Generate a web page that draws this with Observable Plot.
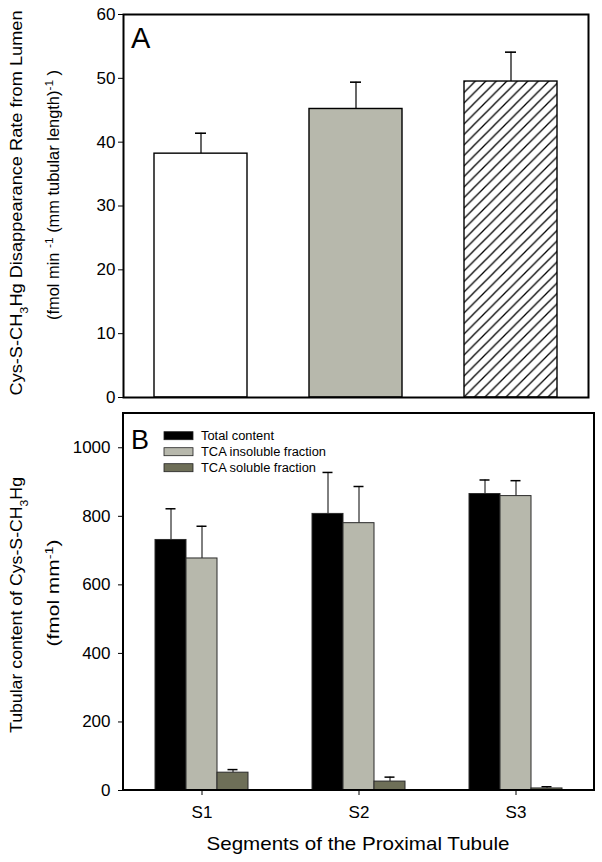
<!DOCTYPE html>
<html>
<head>
<meta charset="utf-8">
<script src="https://cdn.jsdelivr.net/npm/d3@7"></script>
<script src="https://cdn.jsdelivr.net/npm/@observablehq/plot@0.6"></script>
<style>
  html, body { margin: 0; padding: 0; background: #fff; }
  #chart { width: 602px; height: 862px; position: relative; font-family: "Liberation Sans", Arial, sans-serif; }
  #chart svg { display: block; position: absolute; left: 0; overflow: visible; }
</style>
</head>
<body>
<div id="chart"></div>
<script>
// ---------- data ----------
const segments = ["S1", "S2", "S3"];
// Panel A: disappearance rate (fmol/min/mm)
const rateA = [38.2, 45.2, 49.5];
const rateErrA = [3.2, 4.2, 4.6];
// Panel B: tubular content (fmol/mm)
const series = ["Total content", "TCA insoluble fraction", "TCA soluble fraction"];
const totalB = [731, 807, 865];
const totalErrB = [91, 121, 41];
const insolubleB = [677, 780, 859];
const insolubleErrB = [94, 107, 45];
const solubleB = [52, 26, 6];
const solubleErrB = [9, 13, 5];
const ticksA = [0, 10, 20, 30, 40, 50, 60];
const ticksB = [0, 200, 400, 600, 800, 1000];

// ---------- styles ----------
const fillsA = ["white", "#b7b8ac", "url(#hatchA)"];
const fillsB = ["#000000", "#b7b8ac", "#6e6f58"];
const font = '"Liberation Sans", Arial, sans-serif';

const dataA = segments.map((s, i) => ({segment: s, value: rateA[i], err: rateErrA[i]}));
const valsB = [totalB, insolubleB, solubleB];
const errsB = [totalErrB, insolubleErrB, solubleErrB];
const dataB = [];
segments.forEach((s, i) => series.forEach((k, j) => dataB.push({segment: s, series: k, value: valsB[j][i], err: errsB[j][i]})));

const W = 602;
const root = document.getElementById("chart");

function addText(sel, x, y, size, len, parts, opts = {}) {
  const t = sel.append("text")
    .attr("font-size", size).attr("font-family", font)
    .attr("text-anchor", opts.anchor || "start")
    .attr("fill", "black");
  if (opts.rotate) t.attr("transform", `translate(${x},${y}) rotate(-90)`);
  else t.attr("x", x).attr("y", y);
  if (len) t.attr("textLength", len).attr("lengthAdjust", "spacingAndGlyphs");
  parts.forEach(p => {
    if (typeof p === "string") t.append("tspan").text(p);
    else t.append("tspan").attr("baseline-shift", p.shift).attr("font-size", p.size).text(p.t);
  });
  return t;
}

// ---------- Panel B (drawn first, underneath) ----------
const mB = {left: 123, right: 8, top: 13, bottom: 72};
const HB = 462;
const plotB = Plot.plot({
  width: W, height: HB,
  marginLeft: mB.left, marginRight: mB.right, marginTop: mB.top, marginBottom: mB.bottom,
  style: {fontSize: "17px", fontFamily: font, background: "white", color: "black"},
  facet: {data: dataB, x: "segment", marginBottom: mB.bottom, marginTop: mB.top},
  fx: {domain: segments, paddingInner: 0, paddingOuter: 0, label: null, axis: "bottom", tickSize: 5, tickPadding: 10},
  x: {domain: series, paddingInner: 0, paddingOuter: 1.016, axis: null},
  y: {domain: [0, 1100], ticks: ticksB, tickFormat: d => String(d), tickSize: 5, tickPadding: 8, label: null},
  color: {domain: series, range: fillsB},
  marks: [
    Plot.ruleX(dataB, {x: "series", y1: "value", y2: d => d.value + d.err, stroke: "black", strokeWidth: 1}),
    Plot.tickY(dataB, {x: "series", y: d => d.value + d.err, insetLeft: 10.5, insetRight: 10.5, stroke: "black", strokeWidth: 1.5}),
    Plot.barY(dataB, {x: "series", y: "value", fill: "series", stroke: "#2a2a2a", strokeWidth: 1})
  ]
});
plotB.style.top = "400px";
root.appendChild(plotB);

const svgB = d3.select(plotB);
svgB.append("rect").attr("x", mB.left).attr("y", mB.top)
  .attr("width", W - mB.left - mB.right).attr("height", HB - mB.top - mB.bottom)
  .attr("fill", "none").attr("stroke", "black").attr("stroke-width", 2);

addText(svgB, 131, 49, 27, null, ["B"]);

// legend
const legendLen = [73, 125, 115];
series.forEach((s, i) => {
  const y = 35.7 + i * 16;
  svgB.append("rect").attr("x", 164).attr("y", y - 4).attr("width", 29).attr("height", 8)
    .attr("fill", fillsB[i]).attr("stroke", "#222").attr("stroke-width", 0.8);
  addText(svgB, 201, y + 4.3, 12.5, legendLen[i], [s]);
});

// y title B
addText(svgB, 22, 205, 16, 256, ["Tubular content of Cys-S-CH", {t: "3", shift: "sub", size: 11}, "Hg"], {rotate: true, anchor: "middle"});
addText(svgB, 59, 193, 16, 107, ["(fmol mm", {t: "-1", shift: "super", size: 11}, ")"], {rotate: true, anchor: "middle"});

// x title
addText(svgB, 358, 450, 18.6, 303, ["Segments of the Proximal Tubule"], {anchor: "middle"});

// ---------- Panel A ----------
const mA = {left: 123, right: 14, top: 14, bottom: 3};
const plotA = Plot.plot({
  width: W, height: 400,
  marginLeft: mA.left, marginRight: mA.right, marginTop: mA.top, marginBottom: mA.bottom,
  style: {fontSize: "17px", fontFamily: font, background: "transparent", color: "black"},
  x: {domain: segments, paddingInner: 0.4, paddingOuter: 0.2, axis: null},
  y: {domain: [0, 60], ticks: ticksA, tickSize: 5, tickPadding: 3, label: null},
  color: {domain: segments, range: fillsA},
  marks: [
    Plot.ruleX(dataA, {x: "segment", y1: "value", y2: d => d.value + d.err, stroke: "black", strokeWidth: 1.2}),
    Plot.tickY(dataA, {x: "segment", y: d => d.value + d.err, insetLeft: 41, insetRight: 41, stroke: "black", strokeWidth: 1.6}),
    Plot.barY(dataA, {x: "segment", y: "value", fill: "segment", stroke: "black", strokeWidth: 1.4}),
    Plot.frame({stroke: "black", strokeWidth: 2})
  ]
});
plotA.style.top = "0px";
plotA.style.zIndex = "2";
root.appendChild(plotA);

const svgA = d3.select(plotA);
const defs = svgA.insert("defs", ":first-child");
const pat = defs.append("pattern").attr("id", "hatchA").attr("patternUnits", "userSpaceOnUse")
  .attr("width", 10.5).attr("height", 10.5);
pat.append("rect").attr("width", 10.5).attr("height", 10.5).attr("fill", "white");
pat.append("path").attr("d", "M-2,2 L2,-2 M0,10.5 L10.5,0 M8.5,12.5 L12.5,8.5").attr("stroke", "black").attr("stroke-width", 1.3);

addText(svgA, 131, 48, 29, null, ["A"]);

// y title A
addText(svgA, 22, 203, 16.5, 385, ["Cys-S-CH", {t: "3", shift: "sub", size: 11.5}, "Hg Disappearance Rate from Lumen"], {rotate: true, anchor: "middle"});
addText(svgA, 59, 195, 16, 250, ["(fmol min ", {t: "-1", shift: "super", size: 11.5}, " (mm tubular length)", {t: "-1", shift: "super", size: 11.5}, " )"], {rotate: true, anchor: "middle"});
</script>
</body>
</html>
